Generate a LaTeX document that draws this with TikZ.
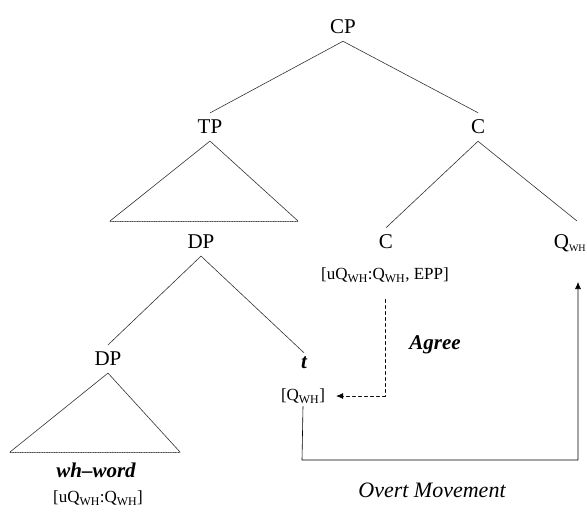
\documentclass[tikz,border=0pt]{standalone}
\usepackage{fontspec}
\setmainfont{Liberation Serif}
\usetikzlibrary{arrows.meta, positioning, calc}

\begin{document}
\begin{tikzpicture}[x=1pt, y=-1pt, >=Latex, line cap=round, line join=round]
	%======================
	% STYLES
	%======================
	\tikzset{
		cat/.style={font=\fontsize{21}{24}\selectfont, inner sep=7pt},
		feat/.style={font=\fontsize{17}{20}\selectfont, inner sep=3pt},
		gloss/.style={font=\fontsize{22}{24}\selectfont\itshape, inner sep=2pt},
		boldgloss/.style={font=\fontsize{21}{24}\selectfont\bfseries\itshape, inner sep=2pt},
		branch/.style={line width=0.6pt, black!80},
		base/.style={line width=0.7pt, densely dotted, black!70},
		agreeline/.style={line width=0.6pt, dashed, -{Latex[length=7pt, width=6pt]}},
		moveline/.style={line width=0.6pt, -{Latex[length=7pt, width=6pt]}}
	}
	\useasboundingbox (0,0) rectangle (587,512);
	
	% categories
	\node[cat] (CP)    at (343,27)  {CP};
	\node[cat] (TP)    at (210,127) {TP};
	\node[cat] (Cbar)  at (478,127) {C};
	\node[cat] (DPtop) at (201,242) {DP};
	\node[cat] (Chead) at (386,242) {C};
	\node[cat, inner sep=2pt] (Qwh) at (570,243) {Q\textsubscript{\fontsize{10}{10}\selectfont WH}};
	\node[cat] (DPlow) at (108,359) {DP};
	\node[cat, boldgloss, inner sep=7pt] (trace) at (304,363) {t};
	
	% features
	\node[feat] (Cfeat)  at (385,275) {[uQ$_{\mathrm{WH}}$:Q$_{\mathrm{WH}}$, EPP]};
	\node[feat] (tfeat)  at (303,396) {[Q$_{\mathrm{WH}}$]};
	\node[boldgloss] (whword) at (96,470) {wh--word};
	\node[feat] (whfeat) at (98,498) {[uQ$_{\mathrm{WH}}$:Q$_{\mathrm{WH}}$]};
	
	% operation labels
	\node[boldgloss] (agree) at (435,345) {Agree};
	\node[gloss] (overt) at (432,490) {Overt Movement};
	
	% triangle feet
	\coordinate (TPl)  at (110,221);
	\coordinate (TPr)  at (298,221);
	\coordinate (DPl)  at (10,452);
	\coordinate (DPr)  at (180,452);
	\coordinate (Qtop) at (577,221);
	\coordinate (mvL)  at (302,460);
	\coordinate (Qend) at (578,282);
	
	% branches
	\draw[branch] (CP.south) -- (TP.north);
	\draw[branch] (CP.south) -- (Cbar.north);
	\draw[branch] (Cbar.south) -- (Chead.north);
	\draw[branch] (Cbar.south) -- (Qtop);
	\draw[branch] (DPtop.south) -- (DPlow.north);
	\draw[branch] (DPtop.south) -- ([yshift=-3pt]trace.north);
	
	% triangles
	\draw[branch] (TPl) -- (TP.south) -- (TPr);
	\draw[base] (TPl) -- (TPr);
	\draw[branch] (DPl) -- (DPlow.south) -- (DPr);
	\draw[base] (DPl) -- (DPr);
	
	% Agree: C probes the trace
	\draw[agreeline] ([yshift=-14pt]Cfeat.south) |- ([xshift=8pt]tfeat.east);
	
	% overt movement to Q
	\draw[moveline] (tfeat.south) -- (mvL) -| (Qend);
\end{tikzpicture}
\end{document}
